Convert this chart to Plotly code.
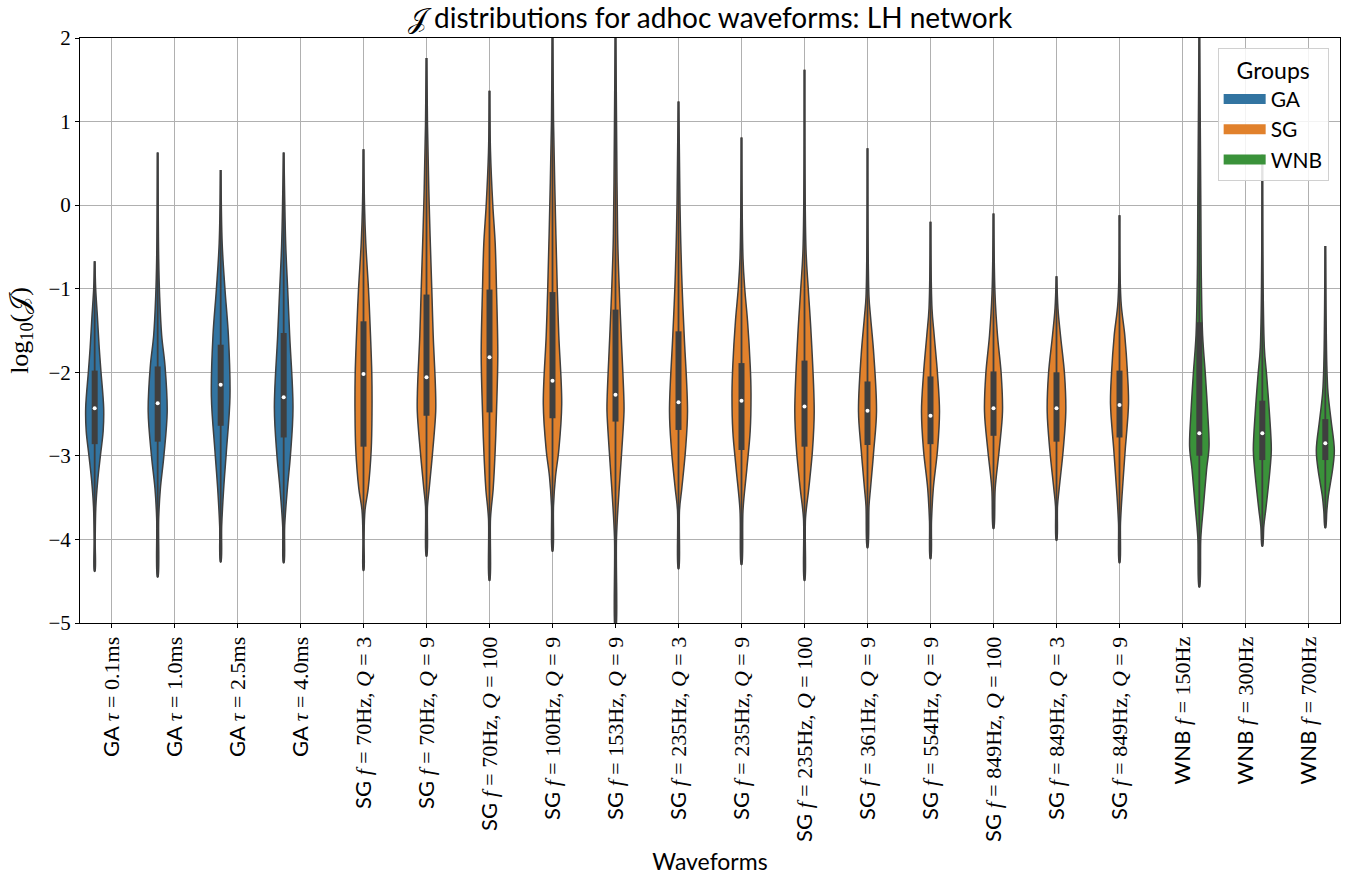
import plotly.graph_objects as go

SERIF = "Liberation Serif"
SANS = "Lato"

def m(s):
    return f"<span style='font-family:{SERIF}'>{s}</span>"

tick_labels = [
    "GA " + m("<i>τ</i> = 0.1ms"),
    "GA " + m("<i>τ</i> = 1.0ms"),
    "GA " + m("<i>τ</i> = 2.5ms"),
    "GA " + m("<i>τ</i> = 4.0ms"),
    "SG " + m("<i>f</i> = 70Hz, <i>Q</i> = 3"),
    "SG " + m("<i>f</i> = 70Hz, <i>Q</i> = 9"),
    "SG " + m("<i>f</i> = 70Hz, <i>Q</i> = 100"),
    "SG " + m("<i>f</i> = 100Hz, <i>Q</i> = 9"),
    "SG " + m("<i>f</i> = 153Hz, <i>Q</i> = 9"),
    "SG " + m("<i>f</i> = 235Hz, <i>Q</i> = 3"),
    "SG " + m("<i>f</i> = 235Hz, <i>Q</i> = 9"),
    "SG " + m("<i>f</i> = 235Hz, <i>Q</i> = 100"),
    "SG " + m("<i>f</i> = 361Hz, <i>Q</i> = 9"),
    "SG " + m("<i>f</i> = 554Hz, <i>Q</i> = 9"),
    "SG " + m("<i>f</i> = 849Hz, <i>Q</i> = 100"),
    "SG " + m("<i>f</i> = 849Hz, <i>Q</i> = 3"),
    "SG " + m("<i>f</i> = 849Hz, <i>Q</i> = 9"),
    "WNB " + m("<i>f</i> = 150Hz"),
    "WNB " + m("<i>f</i> = 300Hz"),
    "WNB " + m("<i>f</i> = 700Hz"),
]
groups = ["GA"] * 4 + ["SG"] * 13 + ["WNB"] * 3

whisker_hi = [-0.67, 0.63, 0.42, 0.63, 0.67, 1.76, 1.37, 2.1, 2.1, 1.24,
              0.81, 1.62, 0.68, -0.20, -0.10, -0.85, -0.12, 2.1, 0.61, -0.49]
whisker_lo = [-4.38, -4.45, -4.27, -4.28, -4.37, -4.20, -4.49, -4.14, -5.1, -4.35,
              -4.30, -4.49, -4.10, -4.23, -3.87, -4.01, -4.28, -4.57, -4.08, -3.86]
q3 = [-1.98, -1.93, -1.67, -1.53, -1.39, -1.07, -1.01, -1.04, -1.25, -1.51,
      -1.89, -1.86, -2.11, -2.05, -1.99, -2.00, -1.98, -1.40, -2.34, -2.56]
median = [-2.43, -2.37, -2.15, -2.30, -2.02, -2.06, -1.82, -2.10, -2.27, -2.36,
          -2.34, -2.41, -2.46, -2.52, -2.43, -2.43, -2.39, -2.73, -2.73, -2.85]
q1 = [-2.86, -2.83, -2.64, -2.78, -2.89, -2.52, -2.48, -2.55, -2.59, -2.69,
      -2.93, -2.89, -2.87, -2.86, -2.76, -2.83, -2.78, -3.00, -3.05, -3.05]

# density profiles: (log10 J level, relative density)
profile_y = [
    [-0.67, -1.0, -1.33, -1.7, -1.98, -2.43, -2.7, -3.0, -3.3, -3.6, -4.0, -4.38],
    [0.63, -0.64, -1.1, -1.56, -1.92, -2.47, -3.0, -3.39, -3.75, -4.45],
    [0.42, -0.46, -1.01, -1.56, -2.29, -2.93, -3.39, -3.84, -4.27],
    [0.63, -0.46, -1.01, -1.56, -2.43, -3.0, -3.39, -3.84, -4.28],
    [0.67, 0.0, -0.46, -1.01, -1.56, -2.02, -2.47, -2.93, -3.39, -3.65, -4.0, -4.37],
    [1.76, 0.96, 0.0, -1.01, -1.56, -2.2, -2.47, -2.93, -3.39, -3.6, -4.2],
    [1.37, 0.64, 0.0, -0.46, -1.01, -1.79, -2.47, -2.93, -3.39, -3.75, -4.49],
    [2.1, 1.02, 0.0, -1.01, -1.56, -2.38, -2.93, -3.25, -3.6, -4.14],
    [2.1, 0.27, -0.46, -1.01, -1.56, -2.29, -2.47, -2.93, -3.39, -3.98, -5.1],
    [1.24, 0.0, -0.46, -1.01, -1.56, -2.47, -2.93, -3.39, -3.65, -4.35],
    [0.81, -0.64, -1.01, -1.38, -1.92, -2.25, -2.7, -3.16, -3.65, -4.30],
    [1.62, -0.53, -1.01, -1.56, -2.47, -2.93, -3.39, -3.75, -4.49],
    [0.68, -1.1, -1.33, -1.79, -2.47, -2.93, -3.39, -3.6, -4.10],
    [-0.20, -1.24, -1.56, -2.02, -2.47, -2.93, -3.39, -3.78, -4.23],
    [-0.10, -1.06, -1.56, -2.02, -2.47, -2.93, -3.39, -3.87],
    [-0.85, -1.24, -1.56, -2.02, -2.47, -2.93, -3.39, -3.6, -4.01],
    [-0.12, -1.15, -1.56, -2.02, -2.38, -2.93, -3.39, -3.8, -4.28],
    [2.1, 0.0, -0.87, -1.56, -2.02, -2.47, -2.89, -3.16, -3.62, -3.98, -4.57],
    [0.61, -1.70, -2.02, -2.47, -2.93, -3.16, -3.62, -3.84, -4.08],
    [-0.49, -1.92, -2.25, -2.57, -2.93, -3.16, -3.48, -3.66, -3.86],
]
profile_d = [
    [0.3, 1, 2.7, 4.5, 6.2, 9, 8.5, 5.7, 3, 1.2, 0.5, 0.3],
    [0.3, 1, 2, 4, 7.3, 9.5, 6.2, 2.7, 1, 0.3],
    [0.3, 1.5, 4.3, 7.7, 9.3, 5.8, 3, 1, 0.3],
    [0.3, 2, 4, 6, 9.3, 6.7, 3.7, 1, 0.3],
    [0.3, 1, 2.3, 5, 7, 8.3, 8.5, 7.7, 4.7, 1.5, 0.5, 0.3],
    [0.3, 1, 2.7, 5.3, 6.7, 9, 9.2, 6.3, 2.7, 1, 0.3],
    [0.3, 1, 3.3, 5.7, 7, 8.3, 7, 5.7, 3.7, 1, 0.3],
    [0.3, 1, 2.7, 4.8, 6.3, 9.2, 6.3, 3, 1, 0.3],
    [0.3, 1.5, 2.3, 3.8, 5.7, 8.3, 8.5, 6.3, 3.7, 1, 0.3],
    [0.3, 1.5, 2.3, 3.7, 5.7, 9, 7, 3.3, 1, 0.3],
    [0.3, 1.5, 3.3, 6, 8.7, 9.5, 8.7, 5.3, 1.5, 0.3],
    [0.3, 1.5, 3.8, 6.7, 9.7, 8, 4.3, 1, 0.3],
    [0.3, 1.5, 3, 6.3, 9, 6.3, 3, 1.5, 0.3],
    [0.3, 1.5, 3.7, 7, 9, 7, 2.8, 1, 0.3],
    [0.3, 1.5, 4, 7.7, 9, 5.7, 1.7, 0.3],
    [0.3, 1.5, 4, 8, 9.3, 6.7, 2.7, 1, 0.3],
    [0.3, 1.5, 5.3, 8, 9, 5.7, 3, 1, 0.3],
    [0.3, 1.5, 2, 3.3, 6, 8.3, 9.7, 7.3, 4, 1.5, 0.3],
    [0.3, 2, 4.2, 7, 9, 7.7, 3.7, 1.5, 0.3],
    [0.3, 1.5, 2.7, 5.7, 9, 7.3, 3, 1.5, 0.3],
]

group_names = ["GA", "SG", "WNB"]
group_colors = {"GA": "#3274A1", "SG": "#E1812C", "WNB": "#3A923A"}
group_offset = {"GA": -0.267, "SG": 0.0, "WNB": 0.267}
DENSITY_TO_X = 1.0 / 63.0
EDGE = "#3f3f3f"

fig = go.Figure()
for i, g in enumerate(groups):
    c = i + group_offset[g]
    ys = profile_y[i]
    ds = profile_d[i]
    xs = [c + d * DENSITY_TO_X for d in ds] + [c - d * DENSITY_TO_X for d in reversed(ds)]
    yy = list(ys) + list(reversed(ys))
    fig.add_trace(go.Scatter(
        x=xs, y=yy, mode="lines", fill="toself", fillcolor=group_colors[g],
        line=dict(color=EDGE, width=1.5, shape="spline", smoothing=1.0),
        showlegend=False, hoverinfo="skip"))

for i, g in enumerate(groups):
    c = i + group_offset[g]
    fig.add_trace(go.Scatter(x=[c, c], y=[whisker_lo[i], whisker_hi[i]], mode="lines",
                             line=dict(color=EDGE, width=1.8), showlegend=False, hoverinfo="skip"))
    fig.add_trace(go.Scatter(x=[c, c], y=[q1[i], q3[i]], mode="lines",
                             line=dict(color=EDGE, width=6), showlegend=False, hoverinfo="skip"))
    fig.add_trace(go.Scatter(x=[c], y=[median[i]], mode="markers",
                             marker=dict(color="white", size=4, line=dict(width=0)),
                             showlegend=False, hoverinfo="skip"))

# legend entries (legend-only patches)
for g in group_names:
    fig.add_trace(go.Scatter(x=[None], y=[None], mode="lines", name=g,
                             line=dict(color=group_colors[g], width=10)))

fig.update_layout(
    width=1359, height=882,
    margin=dict(l=80, r=19, t=38, b=257),
    plot_bgcolor="white", paper_bgcolor="white",
    font=dict(family=SANS, size=21, color="black"),
    title=dict(text=m("𝒥") + " distributions for adhoc waveforms: LH network",
               x=(80 + 1340) / 2 / 1359, xanchor="center", y=1 - 18 / 882, yanchor="middle",
               font=dict(size=28, family=SANS)),
    legend=dict(title=dict(text="Groups", font=dict(size=23), side="top center"),
                x=0.991, xanchor="right", y=0.983, yanchor="top",
                bgcolor="rgba(255,255,255,0.85)", bordercolor="#d0d0d0", borderwidth=1,
                font=dict(size=21), itemwidth=42, tracegroupgap=0),
)
fig.update_xaxes(
    range=[-0.5, 19.5], tickmode="array", tickvals=list(range(20)), ticktext=tick_labels,
    tickangle=-90, showgrid=True, gridcolor="#b0b0b0", gridwidth=1,
    showline=True, linecolor="black", linewidth=1, mirror=True,
    ticks="outside", ticklen=4, tickcolor="black", tickfont=dict(size=22),
    zeroline=False,
    title=dict(text="Waveforms", font=dict(size=23), standoff=12),
)
fig.update_yaxes(
    range=[-5, 2], tickmode="array", tickvals=[-5, -4, -3, -2, -1, 0, 1, 2],
    showgrid=True, gridcolor="#b0b0b0", gridwidth=1,
    showline=True, linecolor="black", linewidth=1, mirror=True,
    ticks="outside", ticklen=4, tickcolor="black",
    tickfont=dict(family=SERIF, size=21), zeroline=False,
    title=dict(text="log<sub>10</sub>(𝒥)", font=dict(family=SERIF, size=26), standoff=12),
)
fig.write_html("out.html", config={"displayModeBar": False},
               post_script="document.body.style.margin='0';document.body.style.padding='0';")
